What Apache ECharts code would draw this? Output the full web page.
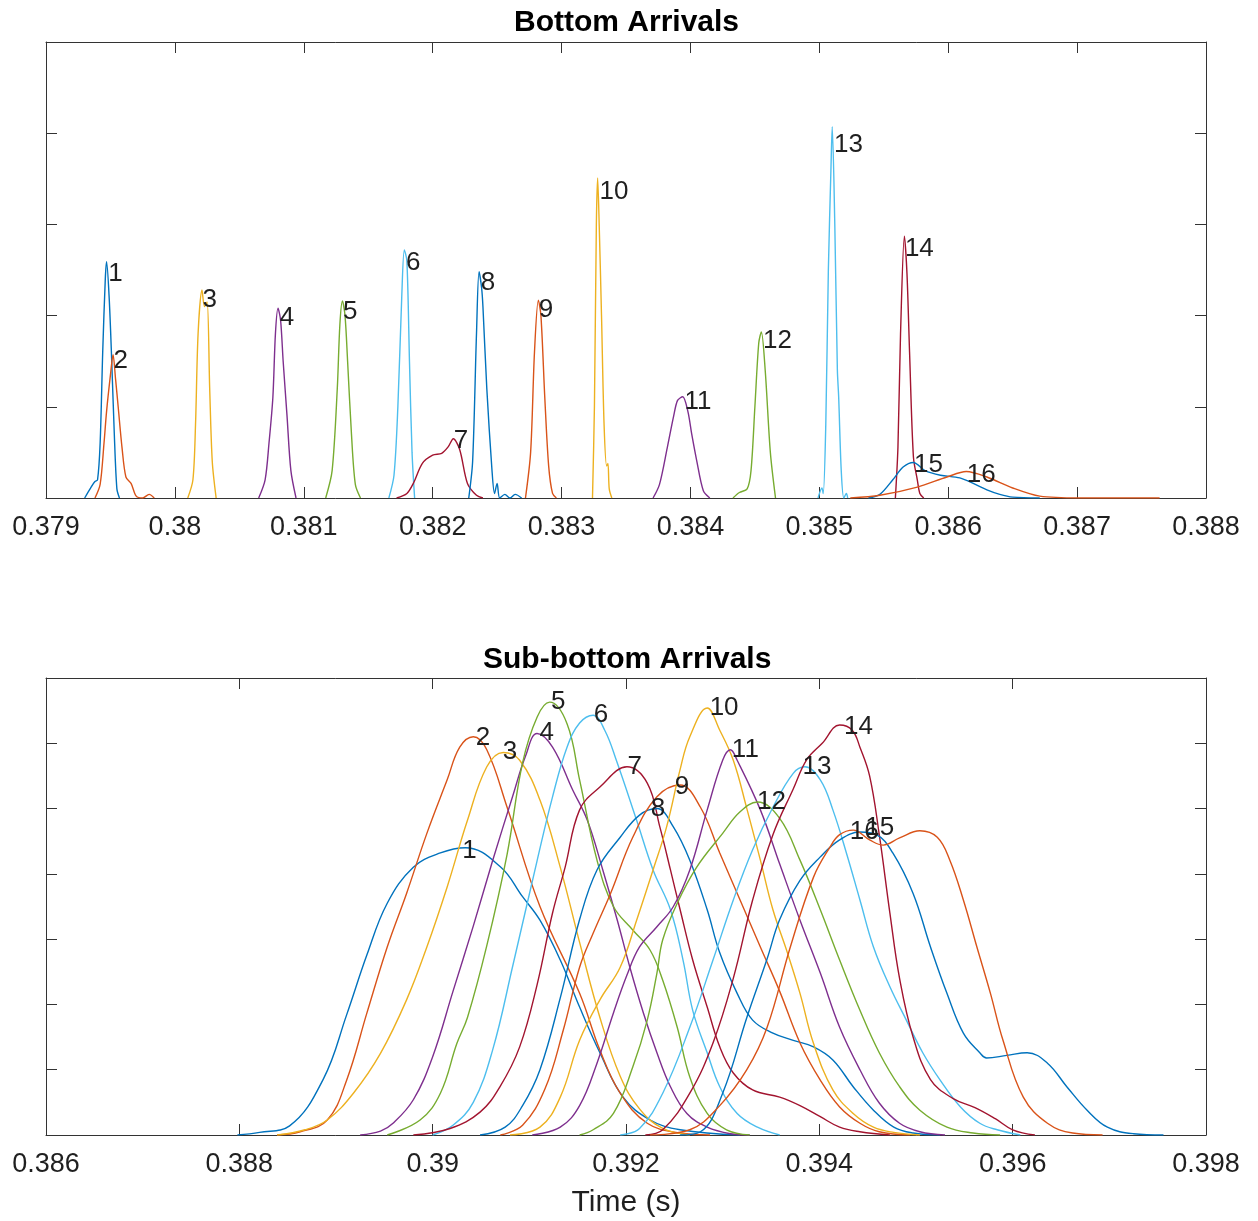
<!DOCTYPE html>
<html>
<head>
<meta charset="utf-8">
<title>Bottom / Sub-bottom Arrivals</title>
<script src="https://cdn.jsdelivr.net/npm/echarts@6/dist/echarts.min.js"></script>
<style>
html, body { margin: 0; padding: 0; background: #fff; }
#chart { width: 1258px; height: 1221px; }
</style>
</head>
<body>
<div id="chart"></div>
<script>
// ---- bottom arrivals, [time (s), amplitude] ----
var top1 = [[0.37930,0],[0.37935,0.12],[0.37938,0.18],[0.37940,0.2],[0.37942,0.6],[0.37944,1.6],[0.37946,2.4],[0.37947,2.59],[0.37949,2.2],[0.37951,1.5],[0.37953,0.7],[0.37955,0.1],[0.37957,0]];
var top2 = [[0.37938,0],[0.37942,0.15],[0.37945,0.6],[0.37947,0.95],[0.37950,1.35],[0.37952,1.57],[0.37954,1.3],[0.37956,1.0],[0.37959,0.55],[0.37962,0.23],[0.37966,0.16],[0.37970,0.02],[0.37975,0],[0.37980,0.04],[0.37984,0]];
var top3 = [[0.38010,0],[0.38014,0.2],[0.38016,0.8],[0.38018,1.8],[0.38021,2.28],[0.38023,2.1],[0.38025,2.15],[0.38027,1.2],[0.38029,0.4],[0.38032,0]];
var top4 = [[0.38065,0],[0.38070,0.2],[0.38073,0.6],[0.38076,1.1],[0.38078,1.8],[0.38080,2.08],[0.38082,1.95],[0.38084,1.5],[0.38087,0.9],[0.38090,0.3],[0.38094,0]];
var top5 = [[0.38117,0],[0.38122,0.3],[0.38126,1.2],[0.38128,1.9],[0.38130,2.16],[0.38132,2.0],[0.38134,1.5],[0.38137,0.7],[0.38140,0.15],[0.38144,0]];
var top6 = [[0.38166,0],[0.38170,0.25],[0.38173,1.0],[0.38176,2.2],[0.38178,2.72],[0.38180,2.6],[0.38182,1.5],[0.38184,0.5],[0.38186,0]];
var top7 = [[0.38172,0],[0.38180,0.05],[0.38185,0.16],[0.38192,0.38],[0.38200,0.47],[0.38207,0.49],[0.38212,0.56],[0.38216,0.65],[0.38221,0.53],[0.38227,0.16],[0.38234,0.03],[0.38239,0]];
var top8 = [[0.38228,0],[0.38231,0.4],[0.38234,1.8],[0.38236,2.48],[0.38238,2.3],[0.38239,2.1],[0.38242,1.2],[0.38246,0.31],[0.38248,0.05],[0.38250,0.16],[0.38252,0],[0.38256,0.04],[0.38260,0],[0.38264,0.04],[0.38269,0]];
var top9 = [[0.38272,0],[0.38276,0.5],[0.38279,1.6],[0.38282,2.17],[0.38284,2.0],[0.38287,1.1],[0.38290,0.35],[0.38293,0.05],[0.38296,0]];
var top10 = [[0.38324,0],[0.383255,1.0],[0.38327,3.0],[0.38328,3.51],[0.383292,3.0],[0.38331,2.0],[0.38333,0.8],[0.38335,0.35],[0.38336,0.38],[0.38337,0.1],[0.38339,0]];
var top11 = [[0.38371,0],[0.38376,0.15],[0.38382,0.55],[0.38387,0.9],[0.38390,1.07],[0.38394,1.11],[0.38398,0.95],[0.38401,0.7],[0.38405,0.4],[0.38410,0.08],[0.38415,0]];
var top12 = [[0.38433,0],[0.38438,0.06],[0.38444,0.1],[0.38447,0.3],[0.38450,1.0],[0.38453,1.7],[0.38455,1.82],[0.38458,1.4],[0.38462,0.5],[0.38466,0]];
var top13 = [[0.38499,0],[0.38502,0.11],[0.38503,0.05],[0.38505,0.8],[0.38507,2.5],[0.38509,3.6],[0.38510,4.07],[0.38512,3.0],[0.38514,1.4],[0.38515,1.11],[0.38517,0.3],[0.38519,0],[0.38521,0.05],[0.38522,0]];
var top14 = [[0.38559,0],[0.38561,0.56],[0.38563,1.8],[0.38566,2.87],[0.38568,2.46],[0.38570,1.6],[0.38573,0.45],[0.38576,0.2],[0.38578,0.05],[0.38581,0]];
var top15 = [[0.38538,0],[0.38547,0.04],[0.38557,0.2],[0.38565,0.34],[0.38573,0.39],[0.38582,0.3],[0.38594,0.25],[0.38609,0.22],[0.38621,0.15],[0.38630,0.09],[0.38640,0.04],[0.38650,0.01],[0.38671,0]];
var top16 = [[0.38524,0],[0.38547,0.03],[0.38576,0.12],[0.38599,0.23],[0.38614,0.29],[0.38630,0.23],[0.38650,0.11],[0.38671,0.02],[0.38702,0],[0.38764,0]];

// ---- sub-bottom arrivals ----
var bot1 = [[0.38798,0],[0.38821,0.04],[0.38852,0.14],[0.38887,0.86],[0.38911,1.84],[0.38932,2.76],[0.38953,3.55],[0.38980,4.1],[0.39008,4.32],[0.39034,4.4],[0.39070,4.11],[0.39093,3.65],[0.39111,3.29],[0.39132,2.68],[0.39152,1.96],[0.39173,1.26],[0.39197,0.58],[0.39225,0.23],[0.39256,0.08],[0.39318,0]];
var bot2 = [[0.38839,0],[0.38863,0.05],[0.38891,0.23],[0.38911,0.84],[0.38932,1.87],[0.38953,2.88],[0.38973,3.7],[0.38994,4.62],[0.39015,5.44],[0.39028,5.94],[0.39042,6.1],[0.39056,5.9],[0.39077,5.02],[0.39111,3.5],[0.39152,2.17],[0.39173,1.3],[0.39194,0.64],[0.39222,0.18],[0.39256,0.03],[0.39287,0]];
var bot3 = [[0.38839,0],[0.38868,0.08],[0.38891,0.23],[0.38918,0.64],[0.38946,1.25],[0.38973,2.07],[0.38994,2.88],[0.39015,3.8],[0.39036,4.82],[0.39056,5.64],[0.39073,5.86],[0.39090,5.74],[0.39111,5.13],[0.39132,4.1],[0.39152,2.95],[0.39173,1.8],[0.39194,0.9],[0.39214,0.4],[0.39238,0.1],[0.39266,0]];
var bot4 = [[0.38925,0],[0.38946,0.06],[0.38959,0.18],[0.38980,0.54],[0.39000,1.2],[0.39021,2.2],[0.39042,3.2],[0.39062,4.2],[0.39083,5.2],[0.39096,5.8],[0.39108,6.15],[0.39124,5.94],[0.39145,5.28],[0.39160,4.82],[0.39176,4.06],[0.39191,3.29],[0.39204,2.57],[0.39218,1.87],[0.39232,1.26],[0.39246,0.74],[0.39263,0.33],[0.39284,0.12],[0.39308,0.02],[0.39328,0]];
var bot5 = [[0.38953,0],[0.38987,0.23],[0.39008,0.64],[0.39025,1.4],[0.39036,1.8],[0.39056,2.9],[0.39077,4.3],[0.39093,5.7],[0.39108,6.4],[0.39121,6.63],[0.39139,6.3],[0.39152,5.44],[0.39170,4.21],[0.39187,3.5],[0.39207,3.14],[0.39225,2.83],[0.39238,2.37],[0.39253,1.65],[0.39266,0.89],[0.39284,0.33],[0.39304,0.08],[0.39328,0]];
var bot6 = [[0.39000,0],[0.39021,0.15],[0.39042,0.5],[0.39062,1.3],[0.39083,2.6],[0.39108,4.2],[0.39124,5.18],[0.39139,5.94],[0.39152,6.31],[0.39166,6.43],[0.39178,6.2],[0.39190,5.74],[0.39211,4.82],[0.39228,4.06],[0.39246,3.45],[0.39259,2.68],[0.39269,1.91],[0.39284,1.26],[0.39297,0.74],[0.39315,0.33],[0.39336,0.12],[0.39359,0]];
var bot7 = [[0.38980,0],[0.39018,0.1],[0.39049,0.35],[0.39070,0.75],[0.39090,1.35],[0.39108,2.3],[0.39124,3.4],[0.39137,4.1],[0.39152,4.98],[0.39173,5.33],[0.39201,5.64],[0.39222,5.39],[0.39235,4.72],[0.39246,4.06],[0.39256,3.45],[0.39269,2.68],[0.39284,1.96],[0.39297,1.35],[0.39311,0.95],[0.39331,0.69],[0.39359,0.58],[0.39380,0.45],[0.39401,0.28],[0.39421,0.12],[0.39442,0.05],[0.39473,0]];
var bot8 = [[0.39049,0],[0.39075,0.12],[0.39093,0.45],[0.39111,1.0],[0.39132,2.1],[0.39152,3.3],[0.39170,4.06],[0.39194,4.56],[0.39214,4.9],[0.39232,5.0],[0.39249,4.72],[0.39266,4.21],[0.39284,3.45],[0.39297,2.79],[0.39315,2.17],[0.39331,1.76],[0.39352,1.56],[0.39373,1.45],[0.39394,1.35],[0.39414,1.15],[0.39435,0.74],[0.39456,0.38],[0.39477,0.12],[0.39497,0.03],[0.39525,0]];
var bot9 = [[0.39070,0],[0.39093,0.15],[0.39116,0.7],[0.39135,1.6],[0.39152,2.57],[0.39166,3.09],[0.39184,3.7],[0.39207,4.56],[0.39232,5.18],[0.39256,5.36],[0.39277,5.02],[0.39297,4.32],[0.39318,3.6],[0.39339,2.88],[0.39359,2.2],[0.39380,1.41],[0.39401,0.84],[0.39421,0.43],[0.39442,0.18],[0.39462,0.05],[0.39494,0]];
var bot10 = [[0.39080,0],[0.39111,0.12],[0.39132,0.58],[0.39152,1.45],[0.39173,2.07],[0.39194,2.57],[0.39211,3.29],[0.39228,4.06],[0.39242,4.72],[0.39256,5.6],[0.39266,6.1],[0.39284,6.54],[0.39297,6.2],[0.39311,5.74],[0.39325,5.0],[0.39339,4.21],[0.39352,3.45],[0.39367,2.79],[0.39380,2.17],[0.39394,1.4],[0.39414,0.69],[0.39435,0.33],[0.39456,0.12],[0.39477,0.04],[0.39504,0]];
var bot11 = [[0.39103,0],[0.39132,0.12],[0.39152,0.45],[0.39170,1.1],[0.39187,1.87],[0.39201,2.45],[0.39214,2.88],[0.39232,3.19],[0.39249,3.5],[0.39266,4.06],[0.39284,4.98],[0.39300,5.74],[0.39308,5.9],[0.39315,5.74],[0.39339,4.98],[0.39359,4.15],[0.39380,3.29],[0.39401,2.48],[0.39421,1.65],[0.39442,1.0],[0.39462,0.49],[0.39483,0.18],[0.39504,0.05],[0.39530,0]];
var bot12 = [[0.39152,0],[0.39166,0.08],[0.39187,0.33],[0.39207,1.04],[0.39222,1.76],[0.39232,2.48],[0.39238,2.99],[0.39253,3.55],[0.39273,4.1],[0.39300,4.62],[0.39318,4.95],[0.39336,5.1],[0.39359,4.85],[0.39380,4.21],[0.39401,3.45],[0.39421,2.68],[0.39442,1.91],[0.39462,1.26],[0.39483,0.74],[0.39504,0.38],[0.39532,0.12],[0.39559,0.03],[0.39587,0]];
var bot13 = [[0.39194,0],[0.39214,0.1],[0.39238,0.64],[0.39266,1.65],[0.39290,2.68],[0.39311,3.6],[0.39331,4.37],[0.39352,5.02],[0.39373,5.54],[0.39385,5.64],[0.39401,5.44],[0.39414,4.98],[0.39428,4.32],[0.39442,3.6],[0.39456,2.88],[0.39473,2.27],[0.39490,1.76],[0.39507,1.26],[0.39525,0.84],[0.39546,0.43],[0.39566,0.18],[0.39584,0.08],[0.39608,0]];
var bot14 = [[0.39220,0],[0.39238,0.08],[0.39266,0.64],[0.39290,1.41],[0.39311,2.4],[0.39331,3.6],[0.39352,4.6],[0.39373,5.3],[0.39387,5.75],[0.39403,6.0],[0.39421,6.28],[0.39434,6.2],[0.39442,5.94],[0.39452,5.5],[0.39462,4.6],[0.39473,3.4],[0.39483,2.4],[0.39497,1.5],[0.39515,0.85],[0.39538,0.56],[0.39561,0.42],[0.39582,0.25],[0.39600,0.08],[0.39623,0]];
var bot15 = [[0.39256,0],[0.39277,0.05],[0.39300,0.64],[0.39325,1.8],[0.39346,2.7],[0.39359,3.3],[0.39380,3.9],[0.39401,4.26],[0.39421,4.52],[0.39442,4.64],[0.39459,4.6],[0.39476,4.32],[0.39497,3.7],[0.39515,2.88],[0.39532,2.17],[0.39549,1.56],[0.39566,1.26],[0.39573,1.18],[0.39594,1.22],[0.39615,1.26],[0.39636,1.1],[0.39656,0.74],[0.39677,0.38],[0.39698,0.12],[0.39725,0.02],[0.39756,0]];
var bot16 = [[0.39225,0],[0.39266,0.08],[0.39297,0.45],[0.39325,1.0],[0.39346,1.65],[0.39370,2.88],[0.39394,3.95],[0.39411,4.41],[0.39421,4.6],[0.39435,4.67],[0.39452,4.52],[0.39466,4.44],[0.39483,4.55],[0.39504,4.66],[0.39522,4.56],[0.39535,4.21],[0.39549,3.6],[0.39563,2.88],[0.39577,2.17],[0.39590,1.45],[0.39611,0.58],[0.39636,0.18],[0.39662,0.03],[0.39693,0]];

// arrival number labels, [time, amplitude, text]
var labelsTop = [[0.37948,2.46,'1'],[0.37952,1.50,'2'],[0.38021,2.17,'3'],[0.38081,1.98,'4'],[0.38130,2.04,'5'],[0.38179,2.58,'6'],[0.38216,0.63,'7'],[0.38237,2.36,'8'],[0.38282,2.06,'9'],[0.38329,3.36,'10'],[0.38395,1.05,'11'],[0.38456,1.72,'12'],[0.38511,3.87,'13'],[0.38566,2.73,'14'],[0.38573,0.36,'15'],[0.38614,0.25,'16']];
var labelsBot = [[0.39030,4.35,'1'],[0.39044,6.08,'2'],[0.39072,5.87,'3'],[0.39110,6.16,'4'],[0.39122,6.63,'5'],[0.39166,6.43,'6'],[0.39201,5.64,'7'],[0.39225,4.99,'8'],[0.39250,5.33,'9'],[0.39286,6.54,'10'],[0.39309,5.9,'11'],[0.39335,5.1,'12'],[0.39382,5.64,'13'],[0.39425,6.25,'14'],[0.39447,4.7,'15'],[0.39431,4.64,'16']];

var topCurves = [top1, top2, top3, top4, top5, top6, top7, top8, top9, top10, top11, top12, top13, top14, top15, top16];
var botCurves = [bot1, bot2, bot3, bot4, bot5, bot6, bot7, bot8, bot9, bot10, bot11, bot12, bot13, bot14, bot15, bot16];

// matlab default line colours
var colors = ['#0072BD', '#D95319', '#EDB120', '#7E2F8E', '#77AC30', '#4DBEEE', '#A2142F'];

var FONT = '"Liberation Sans", Arial, Helvetica, sans-serif';
var AXIS_COLOR = '#333333';
var TEXT_COLOR = '#1f1f1f';

function fmt(v) {
    return String(+v.toFixed(3));
}

function xAxisOf(grid, min, max, interval, pos, extra) {
    var ax = {
        gridIndex: grid,
        type: 'value',
        min: min,
        max: max,
        interval: interval,
        position: pos,
        axisLine: {show: true, onZero: false, lineStyle: {color: AXIS_COLOR, width: 1}},
        axisTick: {show: true, inside: true, length: 11, lineStyle: {color: AXIS_COLOR, width: 1}},
        axisLabel: {show: pos === 'bottom', formatter: fmt, fontSize: 27, color: TEXT_COLOR, fontFamily: FONT, margin: 16},
        splitLine: {show: false}
    };
    for (var k in extra) ax[k] = extra[k];
    return ax;
}

function yAxisOf(grid, max, pos) {
    return {
        gridIndex: grid,
        type: 'value',
        min: 0,
        max: max,
        interval: 1,
        position: pos,
        axisLine: {show: true, onZero: false, lineStyle: {color: AXIS_COLOR, width: 1}},
        axisTick: {show: true, inside: true, length: 11, lineStyle: {color: AXIS_COLOR, width: 1}},
        axisLabel: {show: false},
        splitLine: {show: false}
    };
}

var series = [];
function addCurves(curves, axisIdx, smooth) {
    for (var i = 0; i < curves.length; i++) {
        series.push({
            type: 'line',
            xAxisIndex: axisIdx,
            yAxisIndex: axisIdx,
            data: curves[i],
            showSymbol: false,
            smooth: smooth,
            lineStyle: {color: colors[i % 7], width: 1.4},
            itemStyle: {color: colors[i % 7]},
            silent: true,
            z: 2
        });
    }
}
// number next to each peak; scatter defaults to opacity 0.8, so force 1
function addLabels(labels, axisIdx) {
    series.push({
        type: 'scatter',
        xAxisIndex: axisIdx,
        yAxisIndex: axisIdx,
        symbolSize: 1,
        itemStyle: {color: 'rgba(255,255,255,0)', opacity: 1},
        silent: true,
        z: 5,
        label: {
            show: true,
            position: 'right',
            distance: 0,
            formatter: '{b}',
            fontSize: 26,
            color: TEXT_COLOR,
            opacity: 1,
            fontFamily: FONT
        },
        data: labels.map(function (d) { return {name: d[2], value: [d[0], d[1]]}; })
    });
}

addCurves(topCurves, 0, 0.3);
addCurves(botCurves, 2, 0.4);
addLabels(labelsTop, 0);
addLabels(labelsBot, 2);

var chart = echarts.init(document.getElementById('chart'), null, {renderer: 'canvas'});

var option = {
    animation: false,
    backgroundColor: '#ffffff',
    title: [
        {text: 'Bottom Arrivals', left: 509, top: 3,
         textStyle: {fontSize: 30, fontWeight: 'bold', color: '#000', fontFamily: FONT}},
        {text: 'Sub-bottom Arrivals', left: 478, top: 640,
         textStyle: {fontSize: 30, fontWeight: 'bold', color: '#000', fontFamily: FONT}}
    ],
    grid: [
        {left: 46, top: 42, width: 1160, height: 456},
        {left: 46, top: 678, width: 1160, height: 457}
    ],
    xAxis: [
        xAxisOf(0, 0.379, 0.388, 0.001, 'bottom', {}),
        xAxisOf(0, 0.379, 0.388, 0.001, 'top', {}),
        xAxisOf(1, 0.386, 0.398, 0.002, 'bottom', {
            name: 'Time (s)', nameLocation: 'middle', nameGap: 53,
            nameTextStyle: {fontSize: 30, color: TEXT_COLOR, fontFamily: FONT}
        }),
        xAxisOf(1, 0.386, 0.398, 0.002, 'top', {})
    ],
    yAxis: [
        yAxisOf(0, 5, 'left'),
        yAxisOf(0, 5, 'right'),
        yAxisOf(1, 7, 'left'),
        yAxisOf(1, 7, 'right')
    ],
    series: series
};

chart.setOption(option);
</script>
</body>
</html>
